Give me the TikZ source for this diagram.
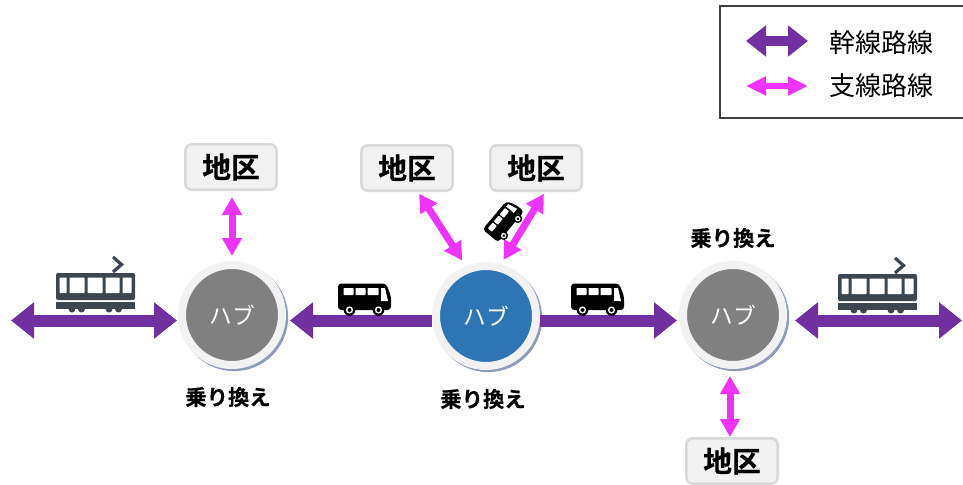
\documentclass[tikz,border=0pt]{standalone}
\usepackage{fontspec}
\newfontfamily\jpfont[BoldFont={Noto Sans CJK JP Bold},BoldFeatures={FakeBold=0.4}]{Noto Sans CJK JP}
\usepackage{tikz}
\usetikzlibrary{arrows.meta, shadows, shapes.geometric}

\definecolor{trunkcol}{HTML}{7030A0}
\definecolor{branchcol}{HTML}{EE33FF}
\definecolor{tramcol}{HTML}{3B4650}
\definecolor{rimcol}{HTML}{F2F2F2}
\definecolor{shadowcol}{HTML}{8E9BBA}

\tikzset{
  hub/.style={shape=circle,draw=rimcol,line width=6pt,minimum size=75pt,inner sep=0pt,
    text=white,font=\jpfont\fontsize{17pt}{18pt}\selectfont,
    general shadow={fill=shadowcol,shadow scale=1.08,shadow xshift=1.5pt,shadow yshift=-1.5pt}},
  district/.style={shape=rectangle,rounded corners=5pt,draw=black!15,fill=rimcol,line width=1.9pt,
    minimum width=68.6pt,minimum height=34.1pt,inner sep=0pt,font=\jpfont\bfseries\fontsize{21.6pt}{24pt}\selectfont},
  transfer/.style={inner sep=0pt,font=\jpfont\bfseries\fontsize{16pt}{18pt}\selectfont},
  legendtext/.style={inner sep=0pt,font=\jpfont\fontsize{19.5pt}{22pt}\selectfont},
  trunk/.style={draw=trunkcol,line width=9pt,>={Triangle[length=17.25pt,width=26.25pt,fill=trunkcol]}},
  branch/.style={draw=branchcol,line width=5.25pt,>={Triangle[length=13.5pt,width=14.25pt,fill=branchcol]}},
  trunkkey/.style={draw=trunkcol,line width=7.5pt,>={Triangle[length=15pt,width=22.5pt,fill=trunkcol]}},
  branchkey/.style={draw=branchcol,line width=4.5pt,>={Triangle[length=15pt,width=13.5pt,fill=branchcol]}},
  tramicon/.pic={
    \fill [tramcol,rounded corners=1.5] (-39.5,-18) rectangle (39.5,9);
    \foreach \xa/\xb in {-36/-29,-26/-11,-8/7,10/24,27/36}
      \fill [white,rounded corners=.5] (\xa,-13.5) rectangle (\xb,2);
    \fill [tramcol] (-39.5,11) rectangle (39.5,18);
    \foreach \xa in {-23.5,-14,13.5,23}
      \fill [tramcol] (\xa,18) circle (3.5);
    \draw [tramcol,line width=2.4pt] (17.5,-34) -- (26,-26.5) -- (17.5,-19);
  },
  busicon/.pic={
    \fill [black,rounded corners=2.5] (-26.5,-14.5) -- (21.5,-14.5) -- (26.5,-2) -- (26.5,12) -- (-26.5,12) -- cycle;
    \foreach \xa/\xb in {-21/-11,-9/1,3/14}
      \fill [white,rounded corners=.5] (\xa,-10) rectangle (\xb,-3);
    \fill [white] (16.5,-10) -- (20.5,-10) -- (23.5,3) -- (16.5,3) -- cycle;
    \foreach \xa in {-15,14}{
      \fill [black] (\xa,12) circle (5.8);
      \fill [white] (\xa,12) circle (3.6);
      \fill [black] (\xa,12) circle (2);
    }
  }
}

\begin{document}
\begin{tikzpicture}[x=0.75pt,y=-0.75pt]
    \useasboundingbox (0,0) rectangle (963,485);

    \node (hubl) at (232,315) [hub,fill=black!50] {ハブ}; %
    \node (hubc) at (486,316) [hub,fill={rgb,255:red,46;green,117;blue,182}] {ハブ}; %
    \node (hubr) at (733,315) [hub,fill=black!50] {ハブ}; %
    \node (boxl) at (231,167) [district] {地区}; %
    \node (boxcl) at (407,168) [district] {地区}; %
    \node (boxcr) at (536,168) [district] {地区}; %
    \node (boxr) at (732,461) [district] {地区}; %
    \node (swl) at (228,397) [transfer] {乗り換え}; %
    \node (swc) at (483,399) [transfer] {乗り換え}; %
    \node (swr) at (733,238) [transfer] {乗り換え}; %

    \coordinate (endl) at (11,320.5); %
    \coordinate (endr) at (962,320.5); %

    %%%% arcs
    \draw [trunk,<->] (endl) to ([shift={(-55,5.5)}]hubl.center); %
    \draw [trunk,->,shorten >=3pt] ([shift={(0,4.5)}]hubc.west) to ([shift={(0,5.5)}]hubl.east); %
    \draw [trunk,->,shorten >=1.5pt] ([shift={(0,4.5)}]hubc.east) to ([shift={(0,5.5)}]hubr.west); %
    \draw [trunk,<->,shorten <=6pt] ([shift={(0,5.5)}]hubr.east) to (endr); %
    \draw [branch,<->,shorten <=4.5pt,shorten >=3.75pt] ([shift={(1,0)}]boxl.south) to (hubl.north); %
    \draw [branch,<->,shorten <=1.5pt,shorten >=4.85pt] ([shift={(11,0)}]boxcl.south) to (hubc.112); %
    \draw [branch,<->,shorten <=1.5pt,shorten >=3.75pt] ([shift={(9,0)}]boxcr.south) to (hubc.74); %
    \draw [branch,<->,shorten <=5.25pt] ([shift={(-3,0)}]hubr.south) to ([shift={(-2,0)}]boxr.north); %

    %%%% vehicles
    \pic at (95.5,291) {tramicon};
    \pic at (877.5,292) {tramicon};
    \pic at (364.5,298) {busicon};
    \pic at (597.5,298) {busicon};
    \pic [rotate=50,scale=.76,transform shape] at (504,221) {busicon};

    %%%% legend
    \draw [black!75,line width=1pt] (720,6) rectangle (970,118);
    \coordinate (keya) at (746,41); %
    \coordinate (keyb) at (808,41); %
    \coordinate (keyc) at (746,86); %
    \coordinate (keyd) at (808,86); %
    \draw [trunkkey,<->] (keya) to (keyb); %
    \draw [branchkey,<->] (keyc) to (keyd); %
    \node (keytrunk) at (881,43) [legendtext] {幹線路線}; %
    \node (keybranch) at (881,86) [legendtext] {支線路線}; %
  \end{tikzpicture}
\end{document}
